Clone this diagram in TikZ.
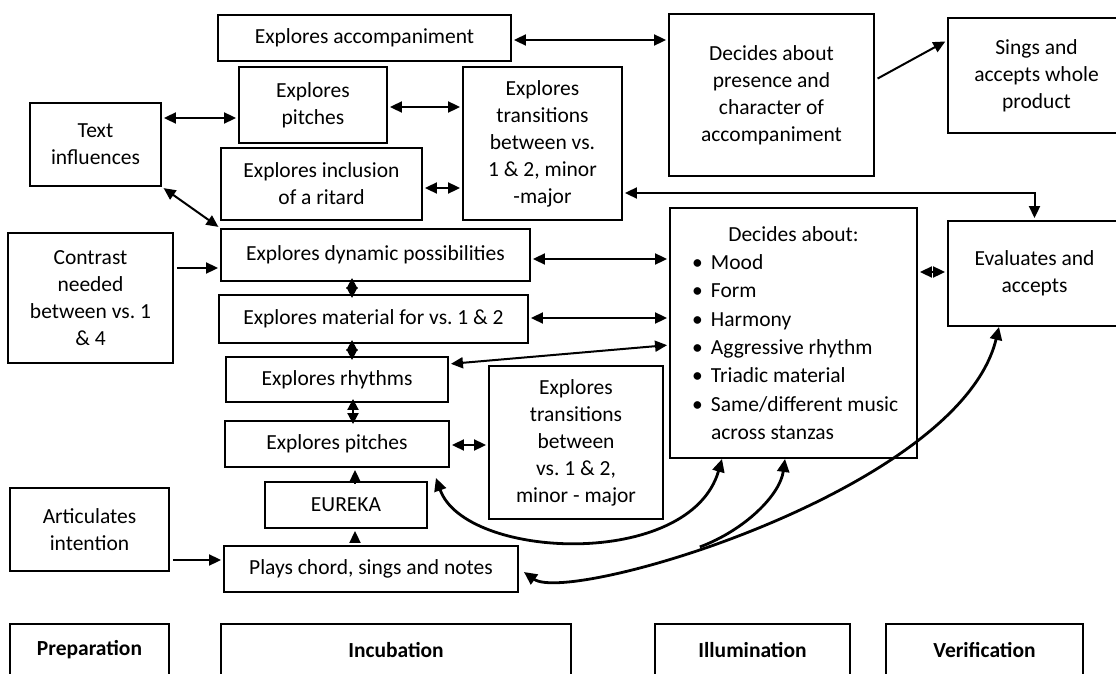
\documentclass[tikz,border=0pt]{standalone}
\usepackage{fontspec}
\setmainfont{Carlito}
\usetikzlibrary{arrows.meta}

\begin{document}
\frenchspacing
\begin{tikzpicture}[
  x=1pt, y=-1pt,
  font=\fontsize{21.5}{27}\selectfont,
  box/.style={
    draw,
    line width=1.9pt,
    align=center,
    inner sep=0pt
  },
  phase/.style={box, font=\fontsize{21.5}{27}\selectfont\bfseries},
  oneway/.style={-{Triangle[length=12pt,width=11pt]}, line width=2pt, shorten >=2pt, shorten <=3pt},
  twoway/.style={{Triangle[length=12pt,width=11pt]}-{Triangle[length=12pt,width=11pt]}, line width=2pt, shorten >=2pt, shorten <=2pt},
  tight/.style={{Triangle[length=11pt,width=11pt]}-{Triangle[length=11pt,width=11pt]}, line width=2pt, shorten >=-4pt, shorten <=-4pt},
  swoop/.style={{Triangle[length=13pt,width=12pt]}-{Triangle[length=13pt,width=12pt]}, line width=2.8pt},
  branch/.style={-{Triangle[length=13pt,width=12pt]}, line width=2.8pt}
]
\useasboundingbox (0,0) rectangle (1116,674);

% Upper strand
\node[box, minimum width=293, minimum height=46] (accomp) at (364.5,38) {Explores accompaniment};
\node[box, minimum width=205, minimum height=162] (presence) at (771.5,95) {Decides about\\presence and\\character of\\accompaniment};
\node[box, minimum width=177, minimum height=115] (sings) at (1036.5,75.5) {Sings and\\accepts whole\\product};
\node[box, minimum width=131, minimum height=83] (textinf) at (95.5,144.5) {Text\\influences};
\node[box, minimum width=148, minimum height=76] (pitchtop) at (313,105) {Explores\\pitches};
\node[box, minimum width=201, minimum height=72] (ritard) at (321.5,184) {Explores inclusion\\of a ritard};
\node[box, minimum width=159, minimum height=153] (transtop) at (542.5,143.5) {Explores\\transitions\\between vs.\\1 \& 2, minor\\-major};

% Middle strand
\node[box, minimum width=165, minimum height=130] (contrast) at (90.5,298) {Contrast\\needed\\between vs. 1\\ \& 4};
\node[box, minimum width=309, minimum height=52] (dynamic) at (375.5,255) {Explores dynamic possibilities};
\node[box, minimum width=309, minimum height=48] (material) at (373.5,319) {Explores material for vs. 1 \& 2};
\node[box, minimum width=222, minimum height=45] (rhythms) at (337,379.5) {Explores rhythms};
\node[box, minimum width=224, minimum height=46] (pitchlow) at (337,444) {Explores pitches};
\node[box, minimum width=174, minimum height=153] (translow) at (576,442.5) {Explores\\transitions\\between\\vs. 1 \& 2,\\minor - major};
\node[box, minimum width=162, minimum height=46] (eureka) at (346,505) {EUREKA};
\node[box, minimum width=294, minimum height=46] (plays) at (371,569) {Plays chord, sings and notes};
\node[box, minimum width=159, minimum height=83] (artic) at (89.5,529.5) {Articulates\\intention};

% Decisions
\node[box, align=flush left, text width=247pt, minimum height=250, font=\fontsize{21.5}{28.3}\selectfont] (decides) at (793.5,333) {%
  \makebox[\hsize]{Decides about:}\\
  \hspace*{22pt}\makebox[19pt][l]{\textbullet}Mood\\
  \hspace*{22pt}\makebox[19pt][l]{\textbullet}Form\\
  \hspace*{22pt}\makebox[19pt][l]{\textbullet}Harmony\\
  \hspace*{22pt}\makebox[19pt][l]{\textbullet}Aggressive rhythm\\
  \hspace*{22pt}\makebox[19pt][l]{\textbullet}Triadic material\\
  \hspace*{22pt}\makebox[19pt][l]{\textbullet}Same/different music\\
  \hspace*{41pt}across stanzas};
\node[box, minimum width=173, minimum height=105] (evaluates) at (1034.5,273.5) {Evaluates and\\accepts};

% Phases
\node[phase, minimum width=159, minimum height=52] (prep) at (89.5,650) {Preparation};
\node[phase, minimum width=350, minimum height=52] (incub) at (396,650) {Incubation};
\node[phase, minimum width=195, minimum height=52] (illum) at (752.5,650) {Illumination};
\node[phase, minimum width=197, minimum height=52] (verif) at (984.5,650) {Verification};

% Upper links
\draw[twoway] ([yshift=-2pt]accomp.east) -- ([yshift=55pt]presence.west);
\draw[oneway] ([yshift=15pt]presence.east) -- ([yshift=35pt]sings.west);
\draw[twoway] ([yshift=26.5pt]textinf.east) -- ([yshift=-13pt]pitchtop.west);
\draw[twoway] ([yshift=-2pt]pitchtop.east) -- ([yshift=36.5pt]transtop.west);
\draw[twoway] ([yshift=-4pt]ritard.east) -- ([yshift=-44.5pt]transtop.west);
\draw[twoway] ([yshift=-49.5pt]transtop.east) -| (evaluates.north);
\draw[twoway] (textinf.south east) -- (dynamic.north west);

% Middle links
\draw[oneway] ([yshift=30pt]contrast.east) -- ([yshift=-13pt]dynamic.west);
\draw[twoway] ([yshift=-4pt]dynamic.east) -- ([yshift=74pt]decides.west);
\draw[twoway] ([yshift=1pt]material.east) -- ([yshift=15pt]decides.west);
\draw[twoway] ([yshift=15.5pt]rhythms.east) -- ([yshift=-12pt]decides.west);
\draw[tight] ([xshift=-23.5pt]dynamic.south) -- ([xshift=-21.5pt]material.north);
\draw[tight] ([xshift=-21.5pt]material.south) -- ([xshift=15pt]rhythms.north);
\draw[tight] ([xshift=16pt]rhythms.south) -- ([xshift=16pt]pitchlow.north);
\draw[twoway] ([yshift=-1pt]pitchlow.east) -- ([yshift=-2.5pt]translow.west);
\draw[oneway] ([xshift=9pt]eureka.north) -- ([xshift=18pt]pitchlow.south);
\draw[oneway] ([xshift=-16pt]plays.north) -- ([xshift=9pt]eureka.south);
\draw[oneway] ([yshift=-30.5pt]artic.east) -- ([yshift=9pt]plays.west);
\draw[twoway] ([yshift=61pt]decides.east) -- ([yshift=1.5pt]evaluates.west);

% Feedback curves
\draw[swoop] ([shift={(-14pt,-10pt)}]pitchlow.south east) .. controls (465,560) and (690,570) .. ([xshift=-71.5pt]decides.south);
\draw[swoop] ([shift={(5pt,-3pt)}]plays.east) .. controls (570,605) and (960,490) .. ([xshift=-35.5pt]evaluates.south) coordinate[pos=0.4] (junc);
\draw[branch] (junc) .. controls (745,530) and (780,495) .. ([xshift=-8.5pt]decides.south);

\end{tikzpicture}
\end{document}
